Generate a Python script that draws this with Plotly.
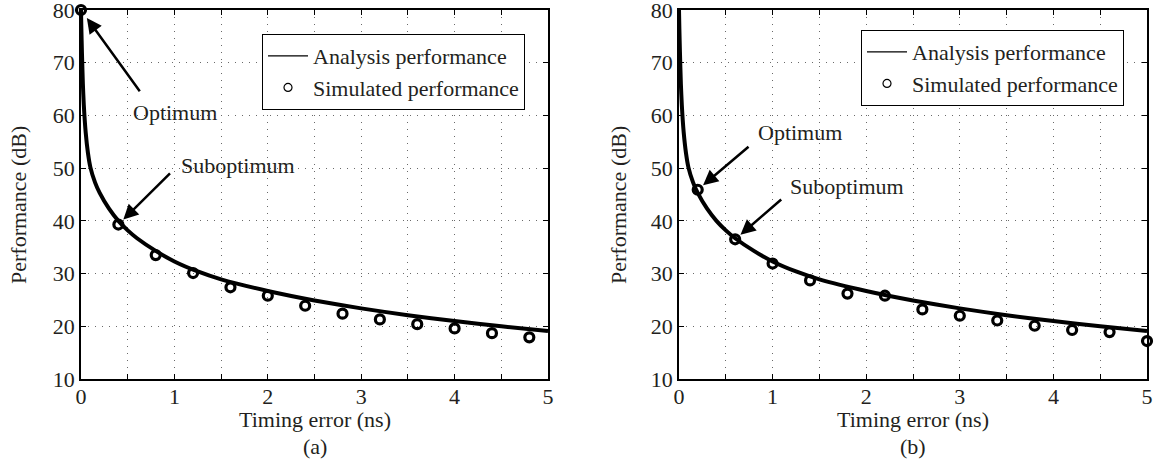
import plotly.graph_objects as go

# Analysis curve (same model for both panels)
analysis_x = [0, 0.004, 0.01, 0.02, 0.03, 0.05, 0.075, 0.1, 0.15, 0.2, 0.3, 0.4, 0.5,
              0.6, 0.8, 1.0, 1.25, 1.5, 2.0, 2.5, 3.0, 3.5, 4.0, 4.5, 5.0]
analysis_y = [80, 76.5, 72, 66, 62, 56.8, 52.8, 50.2, 47.3, 45.3, 42.3, 40.0, 38.2,
              36.7, 34.3, 32.3, 30.4, 28.9, 26.7, 24.9, 23.4, 22.1, 21.0, 20.0, 19.1]

# Simulated points, panel (a)
sim_a_x = [0, 0.4, 0.8, 1.2, 1.6, 2.0, 2.4, 2.8, 3.2, 3.6, 4.0, 4.4, 4.8]
sim_a_y = [80, 39.3, 33.5, 30.1, 27.4, 25.8, 23.9, 22.4, 21.3, 20.4, 19.6, 18.7, 17.9]

# Simulated points, panel (b)
sim_b_x = [0.2, 0.6, 1.0, 1.4, 1.8, 2.2, 2.6, 3.0, 3.4, 3.8, 4.2, 4.6, 5.0]
sim_b_y = [45.9, 36.5, 31.9, 28.7, 26.2, 25.8, 23.2, 22.0, 21.1, 20.1, 19.3, 18.9, 17.2]

x_ticks = [0, 1, 2, 3, 4, 5]
x_minor = [0.5, 1.5, 2.5, 3.5, 4.5]
y_ticks = [10, 20, 30, 40, 50, 60, 70, 80]

FONT = "Liberation Serif"
INK = "#231f20"
FS = 22
W, H = 1154, 461

fig = go.Figure()

for xa, ya, sx, sy, leg in [("x", "y", sim_a_x, sim_a_y, "legend"),
                            ("x2", "y2", sim_b_x, sim_b_y, "legend2")]:
    fig.add_trace(go.Scatter(x=analysis_x, y=analysis_y, mode="lines",
                             line=dict(color="black", width=4, shape="spline", smoothing=0.5),
                             xaxis=xa, yaxis=ya, showlegend=False, cliponaxis=False))
    fig.add_trace(go.Scatter(x=sx, y=sy, mode="markers",
                             marker=dict(symbol="circle-open", size=9, color="black",
                                         line=dict(width=3.2, color="black")),
                             xaxis=xa, yaxis=ya, showlegend=False, cliponaxis=False))
    # legend entries (thin styles)
    fig.add_trace(go.Scatter(x=[None], y=[None], mode="lines", name="Analysis performance",
                             line=dict(color="black", width=1.2),
                             xaxis=xa, yaxis=ya, legend=leg))
    fig.add_trace(go.Scatter(x=[None], y=[None], mode="markers", name="Simulated performance",
                             marker=dict(symbol="circle-open", size=8, color="black",
                                         line=dict(width=1.2, color="black")),
                             xaxis=xa, yaxis=ya, legend=leg))

grid = dict(gridcolor="#6a6a6a", griddash="1px,6px", gridwidth=1)
tickfont = dict(family=FONT, size=FS, color=INK)

xaxis_common = dict(range=[0, 5], tickmode="array", tickvals=x_ticks, ticks="inside",
                    ticklen=5, tickwidth=1, tickcolor="black", showline=True,
                    linecolor="black", linewidth=1.5, mirror="ticks", showgrid=True,
                    zeroline=False, tickfont=tickfont, ticklabeloverflow="allow",
                    ticklabelstandoff=-3, automargin=False,
                    minor=dict(tickmode="array", tickvals=x_minor, ticks="inside", ticklen=5,
                               tickwidth=1, tickcolor="black", showgrid=True, **grid),
                    **grid)
yaxis_common = dict(range=[10, 80], tickmode="array", tickvals=y_ticks, ticks="inside",
                    ticklen=5, tickwidth=1, tickcolor="black", showline=True,
                    linecolor="black", linewidth=1.5, mirror="ticks", showgrid=True,
                    zeroline=False, tickfont=tickfont, ticklabeloverflow="allow",
                    automargin=False, **grid)

def px_x(p):
    return p / W

def px_y(p):
    return 1 - p / H

legend_style = dict(xanchor="left", yanchor="top", bordercolor="black", borderwidth=1,
                    bgcolor="white", font=dict(family=FONT, size=FS, color=INK),
                    tracegroupgap=0, itemwidth=40)

fig.update_layout(
    width=W, height=H, autosize=False,
    margin=dict(l=0, r=0, t=0, b=0, pad=0, autoexpand=False),
    paper_bgcolor="white", plot_bgcolor="white",
    font=dict(family=FONT, size=FS, color=INK),
    xaxis=dict(domain=[px_x(81), px_x(548)], anchor="y", **xaxis_common),
    yaxis=dict(domain=[px_y(379), px_y(10)], anchor="x", **yaxis_common),
    xaxis2=dict(domain=[px_x(679), px_x(1147)], anchor="y2", **xaxis_common),
    yaxis2=dict(domain=[px_y(379), px_y(10)], anchor="x2", **yaxis_common),
    legend=dict(x=px_x(262), y=px_y(34), **legend_style),
    legend2=dict(x=px_x(861), y=px_y(30), **legend_style),
    showlegend=True,
)

annotations = []

def arrow(xr, yr, x, y, ax, ay, standoff):
    annotations.append(dict(xref=xr, yref=yr, axref=xr, ayref=yr, x=x, y=y, ax=ax, ay=ay,
                            text="", showarrow=True, arrowhead=2, arrowsize=1.2,
                            arrowwidth=2.5, arrowcolor="black", standoff=standoff))

def label(xr, yr, x, y, txt):
    annotations.append(dict(xref=xr, yref=yr, x=x, y=y, text=txt, showarrow=False,
                            xanchor="left", yanchor="middle",
                            font=dict(family=FONT, size=FS, color=INK)))

# panel (a)
arrow("x", "y", sim_a_x[0], sim_a_y[0], 0.641, 64.3, 10)
arrow("x", "y", sim_a_x[1], sim_a_y[1], 0.969, 49.3, 7)
label("x", "y", 0.53, 60.5, "Optimum")
label("x", "y", 1.05, 50.5, "Suboptimum")
# panel (b)
arrow("x2", "y2", sim_b_x[0], sim_b_y[0], 0.759, 54.3, 7)
arrow("x2", "y2", sim_b_x[1], sim_b_y[1], 1.108, 44.3, 7)
label("x2", "y2", 0.82, 56.7, "Optimum")
label("x2", "y2", 1.165, 46.5, "Suboptimum")

# axis titles and panel captions
for cx, tag in [(315, "(a)"), (913, "(b)")]:
    annotations.append(dict(xref="paper", yref="paper", x=px_x(cx), y=px_y(419),
                            text="Timing error (ns)", showarrow=False,
                            xanchor="center", yanchor="middle",
                            font=dict(family=FONT, size=FS, color=INK)))
    annotations.append(dict(xref="paper", yref="paper", x=px_x(cx), y=px_y(446),
                            text=tag, showarrow=False, xanchor="center", yanchor="middle",
                            font=dict(family=FONT, size=FS, color=INK)))
for cx in [18, 618]:
    annotations.append(dict(xref="paper", yref="paper", x=px_x(cx), y=px_y(205),
                            text="Performance (dB)", showarrow=False, textangle=-90,
                            xanchor="center", yanchor="middle",
                            font=dict(family=FONT, size=FS, color=INK)))

fig.update_layout(annotations=annotations)
fig.write_html("out.html")
